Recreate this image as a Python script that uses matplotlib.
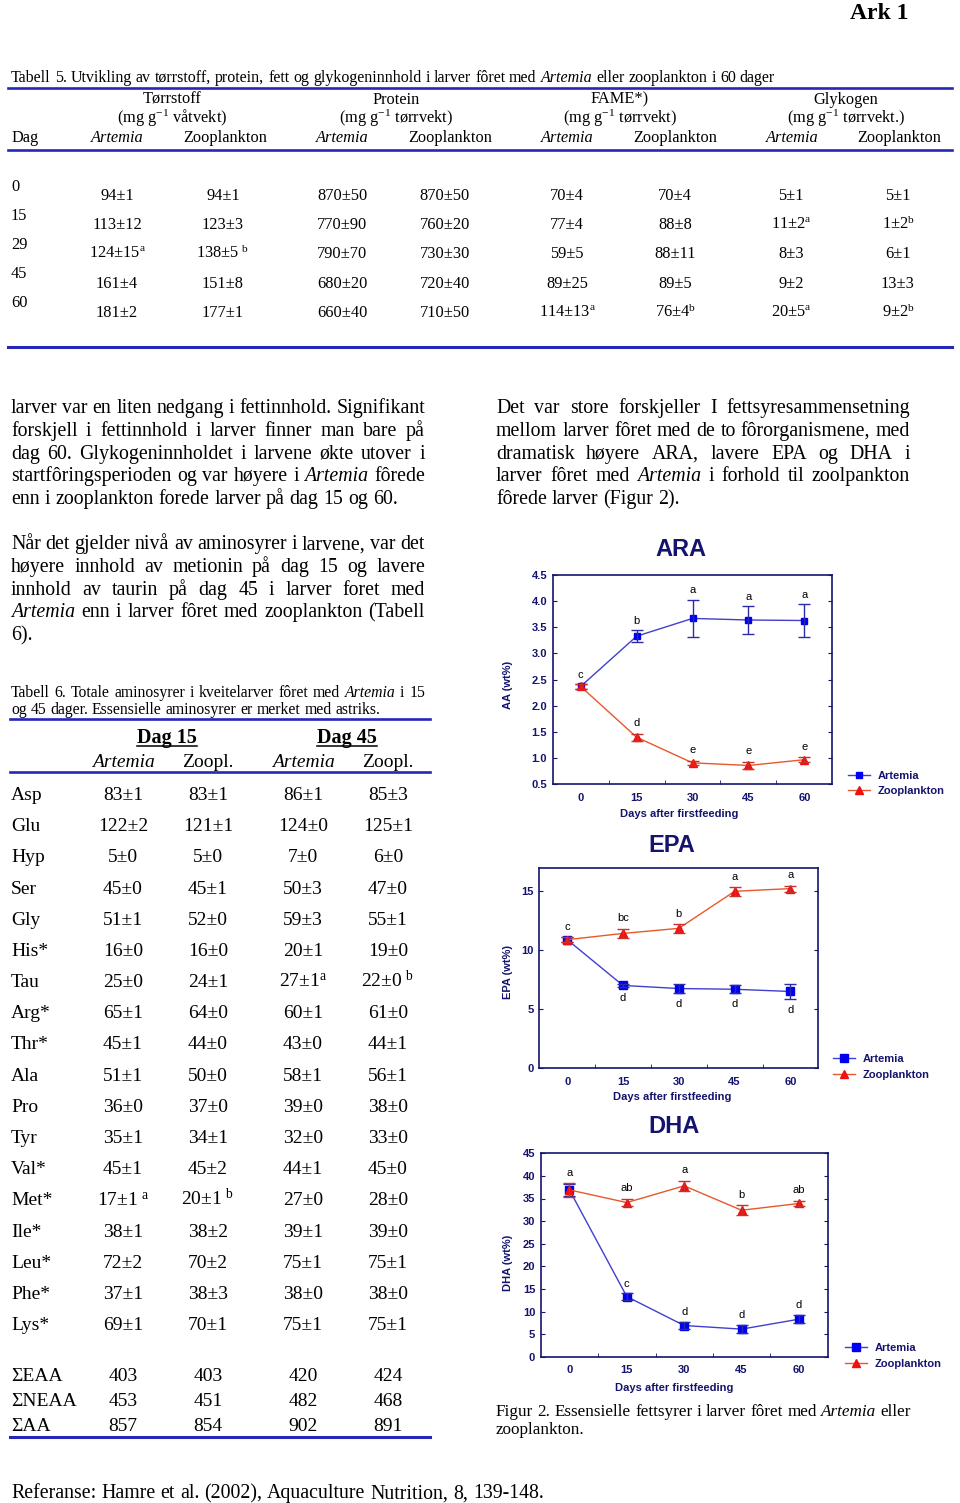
import matplotlib
matplotlib.use('Agg')
import matplotlib.pyplot as plt
from matplotlib.lines import Line2D

W, H = 960, 1503
SERIF = 'Liberation Serif'
SANS = 'Liberation Sans'
NAVY = '#14146e'
RULE = '#2626b8'
BLUE = '#0000f0'
BLUE_LN = '#4040cc'
RED = '#f01010'
ORANGE = '#e8582a'

plt.rcParams.update({
    'font.family': SERIF,
    'mathtext.fontset': 'custom',
    'mathtext.rm': SERIF,
    'mathtext.it': SERIF + ':italic',
    'mathtext.bf': SERIF + ':bold',
})

# ---- table 5 ----
days5 = ['0', '15', '29', '45', '60']
torr_art = ['94±1', '113±12', '124±15$^{\\rm a}$', '161±4', '181±2']
torr_zoo = ['94±1', '123±3', '138±5 $^{\\rm b}$', '151±8', '177±1']
prot_art = ['870±50', '770±90', '790±70', '680±20', '660±40']
prot_zoo = ['870±50', '760±20', '730±30', '720±40', '710±50']
fame_art = ['70±4', '77±4', '59±5', '89±25', '114±13$^{\\rm a}$']
fame_zoo = ['70±4', '88±8', '88±11', '89±5', '76±4$^{\\rm b}$']
glyk_art = ['5±1', '11±2$^{\\rm a}$', '8±3', '9±2', '20±5$^{\\rm a}$']
glyk_zoo = ['5±1', '1±2$^{\\rm b}$', '6±1', '13±3', '9±2$^{\\rm b}$']
groups5 = ['Tørrstoff', 'Protein', 'FAME*)', 'Glykogen']
units5 = ['(mg g$^{-1}$ våtvekt)', '(mg g$^{-1}$ tørrvekt)',
          '(mg g$^{-1}$ tørrvekt)', '(mg g$^{-1}$ tørrvekt.)']

# ---- table 6 ----
aa_names = ['Asp', 'Glu', 'Hyp', 'Ser', 'Gly', 'His*', 'Tau', 'Arg*', 'Thr*',
            'Ala', 'Pro', 'Tyr', 'Val*', 'Met*', 'Ile*', 'Leu*', 'Phe*', 'Lys*']
d15_art = ['83±1', '122±2', '5±0', '45±0', '51±1', '16±0', '25±0', '65±1', '45±1',
           '51±1', '36±0', '35±1', '45±1', '17±1 $^{\\rm a}$', '38±1', '72±2', '37±1', '69±1']
d15_zoo = ['83±1', '121±1', '5±0', '45±1', '52±0', '16±0', '24±1', '64±0', '44±0',
           '50±0', '37±0', '34±1', '45±2', '20±1 $^{\\rm b}$', '38±2', '70±2', '38±3', '70±1']
d45_art = ['86±1', '124±0', '7±0', '50±3', '59±3', '20±1', '27±1$^{\\rm a}$', '60±1', '43±0',
           '58±1', '39±0', '32±0', '44±1', '27±0', '39±1', '75±1', '38±0', '75±1']
d45_zoo = ['85±3', '125±1', '6±0', '47±0', '55±1', '19±0', '22±0 $^{\\rm b}$', '61±0', '44±1',
           '56±1', '38±0', '33±0', '45±0', '28±0', '39±0', '75±1', '38±0', '75±1']
sum_names = ['ΣEAA', 'ΣNEAA', 'ΣAA']
sum_vals = [['403', '403', '420', '424'],
            ['453', '451', '482', '468'],
            ['857', '854', '902', '891']]

# ---- fatty acids (wt%) ----
days = [0, 15, 30, 45, 60]
ara_art = [2.37, 3.33, 3.67, 3.64, 3.63]
ara_art_err = [0.04, 0.11, 0.36, 0.26, 0.31]
ara_zoo = [2.37, 1.40, 0.91, 0.86, 0.97]
ara_zoo_err = [0.04, 0.07, 0.04, 0.07, 0.05]
ara_art_lab = ['c', 'b', 'a', 'a', 'a']
ara_zoo_lab = ['', 'd', 'e', 'e', 'e']

epa_art = [10.9, 7.02, 6.76, 6.70, 6.51]
epa_art_err = [0.2, 0.15, 0.4, 0.35, 0.65]
epa_zoo = [10.9, 11.43, 11.86, 15.0, 15.23]
epa_zoo_err = [0.2, 0.4, 0.37, 0.37, 0.25]
epa_art_lab = ['', 'd', 'd', 'd', 'd']
epa_zoo_lab = ['c', 'bc', 'b', 'a', 'a']

dha_art = [36.9, 13.3, 6.9, 6.1, 8.3]
dha_art_err = [1.4, 0.7, 0.75, 0.95, 0.9]
dha_zoo = [36.9, 34.1, 37.8, 32.4, 33.9]
dha_zoo_err = [1.5, 0.85, 1.1, 1.1, 0.65]
dha_art_lab = ['', 'c', 'd', 'd', 'd']
dha_zoo_lab = ['a', 'ab', 'a', 'b', 'ab']

para1 = ["larver var en liten nedgang i fettinnhold. Signifikant",
         "forskjell i fettinnhold i larver finner man bare på",
         "dag 60. Glykogeninnholdet i larvene økte utover i",
         "startfôringsperioden og var høyere i _Artemia fôrede",
         "enn i zooplankton forede larver på dag 15 og 60."]
para2 = ["Når det gjelder nivå av aminosyrer i larvene, var det",
         "høyere innhold av metionin på dag 15 og lavere",
         "innhold av taurin på dag 45 i larver foret med",
         "_Artemia enn i larver fôret med zooplankton (Tabell",
         "6)."]
para3 = ["Det var store forskjeller I fettsyresammensetning",
         "mellom larver fôret med de to fôrorganismene, med",
         "dramatisk høyere ARA, lavere EPA og DHA i",
         "larver fôret med _Artemia i forhold til zoolpankton",
         "fôrede larver (Figur 2)."]
cap2 = ["Figur 2. Essensielle fettsyrer i larver fôret med _Artemia eller",
        "zooplankton."]
cap5 = "Tabell 5. Utvikling av tørrstoff, protein, fett og glykogeninnhold i larver fôret med _Artemia eller zooplankton i 60 dager"
cap6 = ["Tabell 6. Totale aminosyrer i kveitelarver fôret med _Artemia i 15",
        "og 45 dager. Essensielle aminosyrer er merket med astriks."]

fig = plt.figure(figsize=(W / 100, H / 100), dpi=100)
renderer = fig.canvas.get_renderer()


def fx(x):
    return x / W


def fy(y):
    return 1 - y / H


def txt(x, y, s, size, ha='left', va='baseline', family=SERIF, **kw):
    return fig.text(fx(x), fy(y), s, fontsize=size, ha=ha, va=va, family=family, **kw)


def word_line(x0, y, line, size, x1=None):
    # words starting with '_' are italic; x1 given -> justify
    words = line.split()
    items = []
    for w in words:
        it = w.startswith('_')
        t = txt(x0, y, w.lstrip('_'), size, style='italic' if it else 'normal')
        items.append((t, t.get_window_extent(renderer).width))
    total = sum(w for _, w in items)
    gap = 0.25 * size * 100 / 72
    if x1 is not None and len(items) > 1:
        gap = (x1 - x0 - total) / (len(items) - 1)
    x = x0
    for t, w in items:
        t.set_x(fx(x))
        x += w + gap


def paragraph(x0, x1, y0, lines, size, dy):
    for i, ln in enumerate(lines):
        last = i == len(lines) - 1
        word_line(x0, y0 + i * dy, ln, size, None if last else x1)


def rule(x0, x1, y, lw=1.9):
    fig.add_artist(Line2D([fx(x0), fx(x1)], [fy(y), fy(y)], color=RULE, lw=lw,
                          transform=fig.transFigure))


txt(909, 19, 'Ark 1', 17, ha='right', weight='bold')

# table 5
T5 = 11.8
word_line(11, 82.5, cap5, 11.5)
rule(8, 952, 87.5)
grp_x = [172, 396, 620, 846]
for g, u, gx in zip(groups5, units5, grp_x):
    txt(gx, 103.5, g, T5, ha='center')
    txt(gx, 123, u, T5, ha='center')
txt(11, 141.7, 'Dag', T5)
col_a = [117, 342, 567, 792]
col_z = [225, 450, 675, 899]
for xa, xz in zip(col_a, col_z):
    txt(xa, 141.7, 'Artemia', T5, ha='center', style='italic')
    txt(xz, 141.7, 'Zooplankton', T5, ha='center')
rule(8, 952, 150)
val_cols = [(117, torr_art), (223, torr_zoo), (342, prot_art), (445, prot_zoo),
            (567, fame_art), (675, fame_zoo), (791, glyk_art), (898, glyk_zoo)]
for i, d in enumerate(days5):
    txt(11, 190.7 + i * 29, d, T5)
    for cx, col in val_cols:
        txt(cx, 200 + i * 29.2, col[i], T5, ha='center')
rule(8, 952, 347, lw=2.2)

# text columns
paragraph(11, 425, 413.3, para1, 14.3, 22.7)
paragraph(11, 425, 549.3, para2, 14.3, 22.7)
paragraph(496, 910, 413.3, para3, 14.3, 22.7)

# table 6
paragraph(11, 425, 696.7, cap6, 11.3, 17.6)
rule(10, 430, 719.3)
for cx, lab in [(167, 'Dag 15'), (347, 'Dag 45')]:
    t = txt(cx, 742.7, lab, 14.5, ha='center', weight='bold')
    bb = t.get_window_extent(renderer)
    fig.add_artist(Line2D([bb.x0 / W, bb.x1 / W], [fy(745.5), fy(745.5)], color='black',
                          lw=1.1, transform=fig.transFigure))
col6 = [123, 208, 303, 388]
for cx, lab in zip(col6, ['Artemia', 'Zoopl.', 'Artemia', 'Zoopl.']):
    txt(cx, 767.3, lab, 14, ha='center', style='italic' if lab == 'Artemia' else 'normal')
rule(10, 430, 771.7)
for i, name in enumerate(aa_names):
    y = 800 + i * 31.18
    txt(11, y, name, 14)
    for cx, col in zip(col6, [d15_art, d15_zoo, d45_art, d45_zoo]):
        txt(cx, y, col[i], 14, ha='center')
for i, name in enumerate(sum_names):
    y = 1380.7 + i * 25
    txt(11, y, name, 14)
    for cx, v in zip(col6, sum_vals[i]):
        txt(cx, y, v, 14, ha='center')
rule(10, 430, 1437.3, lw=2.2)
word_line(11, 1498.3, "Referanse: Hamre et al. (2002), Aquaculture Nutrition, 8, 139-148.", 14.3)

# figure 2 caption
paragraph(496, 911, 1416, cap2, 12.3, 18)


def fa_chart(box, title, txy, ylab, yly, xly, ylim, yticks, yfmt, art, art_err, zoo, zoo_err,
             art_lab, zoo_lab, art_below, leg_x, leg_y, ms):
    l, r, t, b = box
    ax = fig.add_axes([fx(l), fy(b), (r - l) / W, (b - t) / H])
    ax.set_facecolor('none')
    ax.plot(days, art, color=BLUE_LN, lw=1.0, marker='s', ms=ms, mfc=BLUE, mec=BLUE,
            label='Artemia', zorder=3)
    ax.errorbar(days, art, yerr=art_err, fmt='none', ecolor='#2b2ba6', elinewidth=1.0,
                capsize=4, capthick=1.0, zorder=3)
    ax.plot(days, zoo, color=ORANGE, lw=1.0, marker='^', ms=5.5, mfc=RED, mec=RED,
            label='Zooplankton', zorder=4)
    ax.errorbar(days, zoo, yerr=zoo_err, fmt='none', ecolor='#c8322a', elinewidth=1.0,
                capsize=4, capthick=1.0, zorder=4)
    for d, v, e, s in zip(days, art, art_err, art_lab):
        if s:
            if art_below:
                ax.annotate(s, (d, v - e), xytext=(0, -8), textcoords='offset points',
                            ha='center', va='center', fontsize=8, family=SANS)
            else:
                ax.annotate(s, (d, v + e), xytext=(0, 7), textcoords='offset points',
                            ha='center', va='center', fontsize=8, family=SANS)
    for d, v, e, s in zip(days, zoo, zoo_err, zoo_lab):
        if s:
            ax.annotate(s, (d, v + e), xytext=(0, 7.5), textcoords='offset points',
                        ha='center', va='center', fontsize=8, family=SANS)
    ax.set_xlim(-7.5, 67.5)
    ax.set_ylim(*ylim)
    ax.set_xticks(days)
    ax.set_xticks([7.5, 22.5, 37.5, 52.5], minor=True)
    ax.set_yticks(yticks)
    ax.set_yticklabels([yfmt % v for v in yticks])
    ax.tick_params(axis='x', which='major', length=0, pad=6)
    ax.tick_params(axis='x', which='minor', direction='in', length=3, color=NAVY)
    ax.tick_params(axis='y', direction='in', length=3, left=True, right=True, pad=4, color=NAVY)
    for lb in ax.get_xticklabels() + ax.get_yticklabels():
        lb.set_family(SANS)
        lb.set_fontweight('bold')
        lb.set_fontsize(8)
        lb.set_color(NAVY)
    for sp in ax.spines.values():
        sp.set_color(NAVY)
        sp.set_linewidth(1.2)
    txt(txy[0], txy[1], title, 17, ha='center', va='center', family=SANS, weight='bold', color=NAVY)
    txt(508, yly, ylab, 8, ha='center', va='center', family=SANS, weight='bold', color=NAVY,
        rotation=90)
    txt(xly[0], xly[1], 'Days after firstfeeding', 8, ha='center', va='center', family=SANS,
        weight='bold', color=NAVY)
    leg = ax.legend(loc='center left', bbox_to_anchor=(fx(leg_x), fy(leg_y)),
                    bbox_transform=fig.transFigure, frameon=False, borderpad=0,
                    borderaxespad=0, handlelength=2.0, handletextpad=0.7, labelspacing=0.5,
                    prop={'family': SANS, 'weight': 'bold', 'size': 8})
    for tx in leg.get_texts():
        tx.set_color(NAVY)
    return ax


fa_chart((552.7, 832.3, 575, 784.3), 'ARA', (680.7, 550), 'AA (wt%)', 685, (679, 814),
         (0.5, 4.5), [0.5, 1.0, 1.5, 2.0, 2.5, 3.0, 3.5, 4.0, 4.5], '%.1f',
         ara_art, ara_art_err, ara_zoo, ara_zoo_err, ara_art_lab, ara_zoo_lab, False,
         848, 783.3, 4.5)
fa_chart((539.3, 818.3, 867.7, 1068.3), 'EPA', (672, 845), 'EPA (wt%)', 972, (672, 1096.7),
         (0, 17), [0, 5, 10, 15], '%d',
         epa_art, epa_art_err, epa_zoo, epa_zoo_err, epa_art_lab, epa_zoo_lab, True,
         833, 1067, 5.5)
fa_chart((540.7, 827.7, 1153.3, 1356.7), 'DHA', (674, 1126.7), 'DHA (wt%)', 1263, (674, 1388),
         (0, 45), list(range(0, 46, 5)), '%d',
         dha_art, dha_art_err, dha_zoo, dha_zoo_err, dha_art_lab, dha_zoo_lab, False,
         845, 1356, 5.5)

fig.savefig('out.png', dpi=100, facecolor='white')
